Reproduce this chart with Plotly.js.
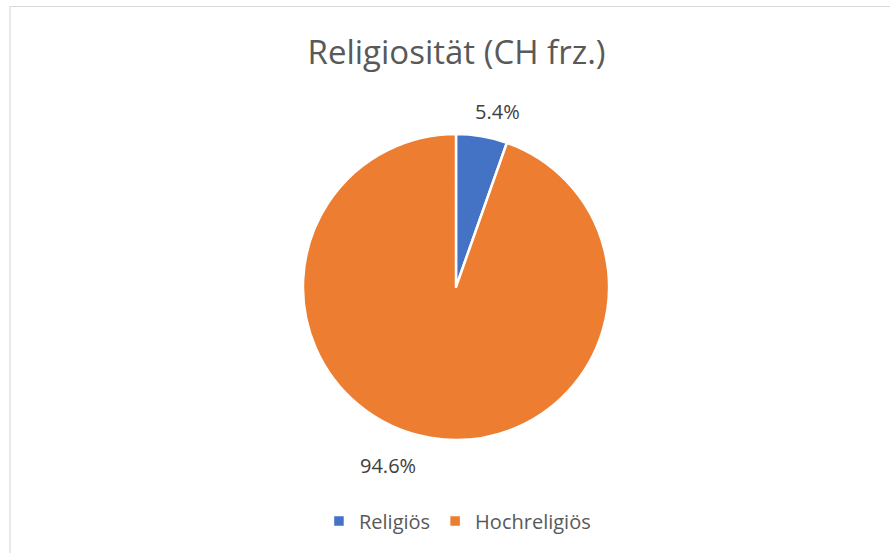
<!DOCTYPE html>
<html>
<head>
<meta charset="utf-8">
<script src="https://cdn.plot.ly/plotly-3.0.1.min.js"></script>
<style>html,body{margin:0;padding:0;background:#fff;}#chart{width:890px;height:553px;}</style>
</head>
<body>
<div id="chart"></div>
<script>
const categories = ["Religiös", "Hochreligiös"];
const values = [5.4, 94.6];
const colors = ["#4472C4", "#ED7D31"];
const chartTitle = "Religiosität (CH frz.)";

const total = values.reduce((a, b) => a + b, 0);
const labelText = values.map(v => (v / total * 100).toFixed(1) + "%");

const trace = {
  type: "pie",
  labels: categories,
  values: values,
  sort: false,
  direction: "clockwise",
  rotation: 0,
  marker: { colors: colors, line: { color: "#ffffff", width: 2.5 } },
  textinfo: "none",
  hoverinfo: "label+percent",
  domain: { x: [0.3404, 0.6843], y: [0.2043, 0.7577] }
};

const font = "Open Sans, Noto Sans, sans-serif";
const layout = {
  width: 890, height: 553,
  margin: { l: 0, r: 0, t: 0, b: 0 },
  paper_bgcolor: "#ffffff",
  font: { family: font, color: "#595959" },
  title: { text: chartTitle, font: { family: font, size: 33, color: "#595959" }, x: 0.513, xanchor: "center", y: 0.906, yanchor: "middle" },
  showlegend: true,
  legend: { orientation: "h", x: 0.514, xanchor: "center", y: 0.058, yanchor: "middle", font: { family: font, size: 20, color: "#595959" }, itemwidth: 30, traceorder: "normal" },
  annotations: [
    { text: labelText[0], x: 0.5595, y: 1 - 112 / 553, xref: "paper", yref: "paper", xanchor: "center", yanchor: "middle", showarrow: false, font: { family: font, size: 20, color: "#404040" } },
    { text: labelText[1], x: 0.436, y: 1 - 465 / 553, xref: "paper", yref: "paper", xanchor: "center", yanchor: "middle", showarrow: false, font: { family: font, size: 20, color: "#404040" } }
  ],
  shapes: [
    { type: "rect", xref: "paper", yref: "paper", x0: 10 / 890, x1: 1.02, y0: -0.02, y1: 1 - 6.5 / 553, line: { color: "#d9d9d9", width: 1.2 }, fillcolor: "rgba(0,0,0,0)" }
  ]
};

Plotly.newPlot("chart", [trace], layout, { displayModeBar: false, staticPlot: true });
</script>
</body>
</html>
